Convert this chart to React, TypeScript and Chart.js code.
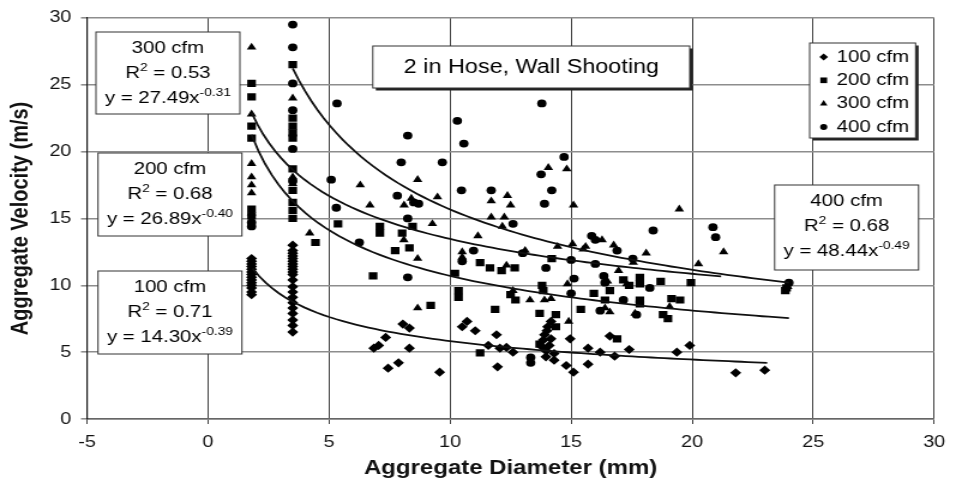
import { useEffect, useRef } from 'react';
import { Chart, registerables } from 'chart.js';

Chart.register(...registerables);

const FONT = "'Liberation Sans', Arial, Helvetica, sans-serif";

// ---- axes ----
const xMin = -5;
const xMax = 30;
const xStep = 5;
const yMin = 0;
const yMax = 30;
const yStep = 5;
const xTitle = 'Aggregate Diameter (mm)';
const yTitle = 'Aggregate Velocity (m/s)';
const chartTitle = '2 in Hose, Wall Shooting';

// ---- series ----
const seriesLabels = ['100 cfm', '200 cfm', '300 cfm', '400 cfm'];
const seriesStyles = ['rectRot', 'rect', 'triangle', 'circle'];
const seriesRadius = [4.6, 5.1, 4.6, 3.9];

const cfm100: [number, number][] = [
  [1.8, 12.0], [1.8, 11.8], [1.8, 11.6], [1.8, 11.4], [1.8, 11.2], [1.8, 11.0], [1.8, 10.8],
  [1.8, 10.6], [1.8, 10.4], [1.8, 10.2], [1.8, 10.0], [1.8, 9.8], [1.8, 9.5], [1.8, 9.3],
  [3.5, 13.0], [3.5, 12.6], [3.5, 12.4], [3.5, 12.2], [3.5, 12.0], [3.5, 11.8], [3.5, 11.6],
  [3.5, 11.4], [3.5, 11.2], [3.5, 11.0], [3.5, 10.8], [3.5, 10.4], [3.5, 9.9], [3.5, 9.5],
  [3.5, 9.1], [3.5, 8.7], [3.5, 8.3], [3.5, 7.9], [3.5, 7.4], [3.5, 7.0], [3.5, 6.5],
  [6.85, 5.3], [7.05, 5.5], [7.34, 6.1], [7.44, 3.8], [7.87, 4.2], [8.05, 7.1], [8.32, 6.8],
  [8.32, 5.3], [9.57, 3.5], [10.5, 6.9], [10.7, 7.3], [11.04, 6.6], [11.58, 5.5], [11.92, 6.3],
  [11.96, 3.9], [12.06, 5.3], [12.33, 5.35], [12.6, 5.0], [13.8, 5.4], [13.85, 5.9], [13.9, 6.3],
  [13.96, 4.65], [13.97, 5.1], [14.0, 6.6], [14.03, 6.9], [14.1, 5.5], [14.17, 7.3], [14.17, 6.0],
  [14.3, 4.9], [14.3, 4.4], [14.8, 4.0], [14.96, 6.0], [15.1, 3.5], [15.7, 5.3], [15.7, 4.1],
  [16.2, 5.0], [16.6, 6.2], [16.8, 4.7], [17.4, 5.2], [19.37, 5.0], [19.9, 5.5], [21.8, 3.45],
  [23.0, 3.65],
];

const cfm200: [number, number][] = [
  [1.8, 25.1], [1.8, 24.1], [1.8, 21.9], [1.8, 21.0], [1.8, 15.7], [1.8, 15.2],
  [3.5, 26.5], [3.5, 22.5], [3.5, 21.9], [3.5, 21.4], [3.5, 21.0], [3.5, 18.7], [3.5, 17.1],
  [3.5, 16.2], [3.5, 15.6], [3.5, 15.0],
  [4.44, 13.2], [5.37, 14.6], [6.82, 10.7], [7.1, 14.4], [7.1, 13.9], [7.73, 12.6], [8.02, 13.9],
  [8.32, 12.8], [8.45, 14.4], [9.2, 8.5], [10.2, 10.9], [10.35, 9.6], [10.35, 9.1], [11.24, 11.7],
  [11.24, 4.95], [11.65, 11.3], [11.86, 8.2], [12.13, 11.1], [12.5, 9.3], [12.7, 8.9], [12.67, 11.3],
  [13.7, 7.9], [13.7, 5.6], [13.8, 10.0], [13.85, 9.6], [14.2, 12.0], [14.37, 7.8], [14.37, 6.9],
  [15.4, 8.2], [15.94, 9.4], [16.4, 8.9], [16.6, 9.6], [16.9, 6.0], [17.16, 10.4], [17.4, 10.0],
  [17.84, 10.6], [17.84, 10.1], [17.84, 8.9], [17.84, 8.6], [18.7, 10.3], [18.8, 7.8], [19.0, 7.5],
  [19.15, 9.0], [19.5, 8.9], [19.95, 10.2], [23.85, 9.6], [23.9, 9.8],
];

const cfm300: [number, number][] = [
  [1.8, 27.8], [1.8, 22.8], [1.8, 19.1], [1.8, 18.1], [1.8, 17.5], [1.8, 16.9], [1.8, 15.4],
  [3.5, 24.0], [3.5, 18.1], [3.5, 17.6],
  [4.2, 13.9], [6.29, 17.5], [6.69, 16.0], [8.1, 16.0], [8.4, 16.5], [8.66, 17.9], [8.09, 13.4],
  [8.66, 12.0], [8.66, 8.3], [9.27, 14.6], [9.48, 16.6], [10.5, 12.5], [10.5, 12.1], [11.15, 13.7],
  [11.7, 16.3], [11.7, 15.1], [12.16, 14.4], [12.24, 15.1], [12.37, 16.7], [12.5, 16.0], [12.33, 11.5],
  [12.6, 9.6], [13.1, 12.6], [13.3, 8.9], [13.9, 8.9], [14.06, 18.8], [14.17, 9.0], [14.44, 12.9],
  [14.82, 18.7], [14.85, 10.1], [14.9, 7.3], [15.06, 13.1], [15.1, 16.0], [15.5, 12.7], [15.6, 12.9],
  [16.28, 13.4], [16.4, 8.3], [16.5, 10.3], [16.6, 8.0], [16.76, 13.0], [16.96, 11.1], [17.3, 10.1],
  [17.57, 11.7], [17.64, 7.9], [18.1, 12.4], [19.07, 8.4], [19.47, 15.7], [20.26, 11.6], [21.3, 12.5],
  [23.95, 9.9],
];

const cfm400: [number, number][] = [
  [1.8, 14.7], [1.8, 14.4],
  [3.5, 29.5], [3.5, 27.8], [3.5, 25.1], [3.5, 23.1], [3.5, 20.2], [3.5, 17.8],
  [5.09, 17.9], [5.3, 15.8], [5.33, 23.6], [6.25, 13.2], [7.82, 16.7], [7.98, 19.2], [8.25, 21.2],
  [8.25, 15.0], [8.25, 10.6], [8.5, 16.2], [8.7, 16.1], [9.68, 19.2], [10.3, 22.3], [10.57, 20.6],
  [10.47, 17.1], [10.5, 11.8], [10.97, 12.6], [11.7, 17.1], [12.6, 14.6], [13.0, 12.4], [13.33, 4.6],
  [13.33, 4.2], [13.76, 18.3], [13.79, 23.6], [13.9, 16.1], [13.96, 11.3], [14.2, 17.1], [14.71, 19.6],
  [15.0, 11.9], [15.0, 9.4], [15.12, 10.5], [15.85, 13.7], [16.0, 13.4], [16.0, 11.6], [16.2, 8.1],
  [16.35, 10.7], [16.4, 10.2], [16.9, 12.6], [17.16, 8.9], [17.55, 12.0], [17.7, 7.8], [18.25, 9.8],
  [18.39, 14.1], [20.86, 14.35], [20.97, 13.6], [24.0, 10.2],
];

const seriesData = [cfm100, cfm200, cfm300, cfm400];

// ---- power trend lines y = a * x^b (as printed on the chart) ----
const trendA = [14.30, 26.89, 27.49, 48.44];
const trendB = [-0.39, -0.40, -0.31, -0.49];
const trendR2 = ['0.71', '0.68', '0.53', '0.68'];
const trendXStart = [1.85, 1.8, 1.8, 3.5];
const trendXEnd = [23.1, 24.0, 21.2, 24.0];

// canvas is drawn narrower and stretched horizontally, like the reference
const CW = 797;
const CH = 484;

type Part = { t: string; sup?: boolean };

function drawRich(ctx: CanvasRenderingContext2D, cx: number, cy: number, parts: Part[]) {
  const main = `17px ${FONT}`;
  const sup = `11.5px ${FONT}`;
  let total = 0;
  const widths: number[] = [];
  for (const p of parts) {
    ctx.font = p.sup ? sup : main;
    const w = ctx.measureText(p.t).width;
    widths.push(w);
    total += w;
  }
  let x = cx - total / 2;
  ctx.textAlign = 'left';
  ctx.textBaseline = 'middle';
  parts.forEach((p, i) => {
    ctx.font = p.sup ? sup : main;
    ctx.fillText(p.t, x, p.sup ? cy - 6 : cy);
    x += widths[i];
  });
}

function drawFrame(ctx: CanvasRenderingContext2D, x: number, y: number, w: number, h: number, shadow: boolean) {
  if (shadow) {
    ctx.fillStyle = '#222';
    ctx.fillRect(x + 2.5, y + 2.5, w, h);
  }
  ctx.fillStyle = '#fff';
  ctx.fillRect(x, y, w, h);
  ctx.strokeStyle = '#333';
  ctx.lineWidth = 1;
  ctx.strokeRect(x, y, w, h);
}

function drawMarker(ctx: CanvasRenderingContext2D, style: string, x: number, y: number, r: number) {
  ctx.beginPath();
  if (style === 'rectRot') {
    ctx.moveTo(x, y - r);
    ctx.lineTo(x + r, y);
    ctx.lineTo(x, y + r);
    ctx.lineTo(x - r, y);
    ctx.closePath();
  } else if (style === 'rect') {
    const s = r * Math.SQRT1_2;
    ctx.rect(x - s, y - s, 2 * s, 2 * s);
  } else if (style === 'triangle') {
    for (let k = 0; k < 3; k++) {
      const a = (k * 2 * Math.PI) / 3;
      const px = x + Math.sin(a) * r;
      const py = y - Math.cos(a) * r;
      if (k === 0) ctx.moveTo(px, py);
      else ctx.lineTo(px, py);
    }
    ctx.closePath();
  } else {
    ctx.arc(x, y, r, 0, Math.PI * 2);
  }
  ctx.fillStyle = '#000';
  ctx.fill();
}

const annotationPlugin = {
  id: 'annotationBoxes',
  afterDraw(chart: any) {
    const ctx: CanvasRenderingContext2D = chart.ctx;
    ctx.save();
    ctx.fillStyle = '#000';

    // equation boxes: [left, top, width, height] per series
    const boxes = [
      [81.7, 271, 120, 83],
      [81.7, 153, 120, 83],
      [80, 32, 120, 82],
      [645.8, 185, 120, 85],
    ];
    boxes.forEach((b, i) => {
      const [bx, by, bw, bh] = b;
      drawFrame(ctx, bx, by, bw, bh, false);
      ctx.fillStyle = '#000';
      const cx = bx + bw / 2;
      drawRich(ctx, cx, by + 16.5, [{ t: seriesLabels[i] }]);
      drawRich(ctx, cx, by + 41.5, [{ t: 'R' }, { t: '2', sup: true }, { t: ` = ${trendR2[i]}` }]);
      drawRich(ctx, cx, by + 66.5, [
        { t: `y = ${trendA[i].toFixed(2)}x` },
        { t: trendB[i].toFixed(2), sup: true },
      ]);
    });

    // title box
    drawFrame(ctx, 310.8, 46, 264.2, 42, true);
    ctx.fillStyle = '#000';
    ctx.font = `19.5px ${FONT}`;
    ctx.textAlign = 'center';
    ctx.textBaseline = 'middle';
    ctx.fillText(chartTitle, 443, 67.5);

    // legend box
    drawFrame(ctx, 675, 43, 88.3, 95, true);
    seriesLabels.forEach((lab, i) => {
      const y = 57 + i * 23.3;
      drawMarker(ctx, seriesStyles[i], 686.7, y, i === 1 ? 4 : i === 3 ? 3 : 3.6);
      ctx.fillStyle = '#000';
      ctx.font = `17px ${FONT}`;
      ctx.textAlign = 'left';
      ctx.textBaseline = 'middle';
      ctx.fillText(lab, 697.5, y);
    });

    ctx.restore();
  },
};

export default function App() {
  const ref = useRef<HTMLCanvasElement>(null);

  useEffect(() => {
    const canvas = ref.current;
    if (!canvas) return;

    const scatterSets = seriesData.map((pts, i) => ({
      label: seriesLabels[i],
      data: pts.map(([x, y]) => ({ x, y })),
      pointStyle: seriesStyles[i],
      pointRadius: seriesRadius[i],
      backgroundColor: '#000',
      borderColor: '#000',
      borderWidth: 0,
      showLine: false,
    }));

    const trendSets = trendA.map((a, i) => {
      const n = 80;
      const pts: { x: number; y: number }[] = [];
      for (let k = 0; k <= n; k++) {
        const x = trendXStart[i] + ((trendXEnd[i] - trendXStart[i]) * k) / n;
        pts.push({ x, y: a * Math.pow(x, trendB[i]) });
      }
      return {
        label: `${seriesLabels[i]} trend`,
        data: pts,
        showLine: true,
        pointRadius: 0,
        borderColor: '#111',
        borderWidth: 1.8,
        backgroundColor: '#111',
        tension: 0,
        fill: false,
      };
    });

    const chart = new Chart(canvas, {
      type: 'scatter',
      data: { datasets: [...trendSets, ...scatterSets] as any },
      options: {
        responsive: false,
        animation: false,
        devicePixelRatio: 1,
        layout: { padding: { top: 17, right: 9.5, left: 0, bottom: 0 } },
        plugins: {
          legend: { display: false },
          tooltip: { enabled: false },
        },
        scales: {
          x: {
            type: 'linear',
            min: xMin,
            max: xMax,
            ticks: {
              stepSize: xStep,
              color: '#111',
              font: { family: FONT, size: 16.5 },
              padding: 9,
              maxRotation: 0,
            },
            grid: { color: '#3c3c3c', lineWidth: 1, tickLength: 5 },
            border: { color: '#666', width: 1.5 },
            title: {
              display: true,
              text: xTitle,
              color: '#111',
              font: { family: FONT, size: 20, weight: 'bold' },
              padding: { top: 0, bottom: 4 },
            },
            afterFit: (s: any) => {
              s.height = 65;
            },
          },
          y: {
            type: 'linear',
            min: yMin,
            max: yMax,
            ticks: {
              stepSize: yStep,
              color: '#111',
              font: { family: FONT, size: 16.5 },
              padding: 8,
            },
            grid: { color: '#8d8d8d', lineWidth: 1.6, tickLength: 5 },
            border: { color: '#111', width: 1.2 },
            title: {
              display: true,
              text: yTitle,
              color: '#111',
              font: { family: FONT, size: 20, weight: 'bold' },
              padding: { top: 5, bottom: 0 },
            },
            afterFit: (s: any) => {
              s.width = 72.5;
            },
          },
        },
      } as any,
      plugins: [annotationPlugin],
    });

    return () => chart.destroy();
  }, []);

  return (
    <div style={{ position: 'fixed', left: 0, top: 0, width: 956, height: 484, background: '#fff' }}>
      <canvas
        ref={ref}
        width={CW}
        height={CH}
        style={{ width: '956px', height: '484px', display: 'block' }}
      />
    </div>
  );
}
